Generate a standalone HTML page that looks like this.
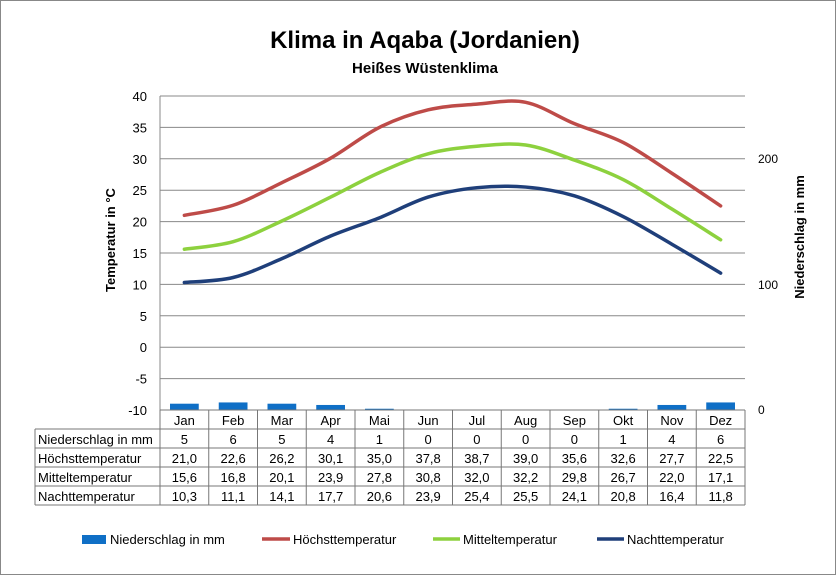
<!DOCTYPE html>
<html><head><meta charset="utf-8"><style>
body{margin:0;background:#fff}
svg{display:block;font-family:"Liberation Sans",Arial,sans-serif}
</style></head><body>
<svg id="s" width="836" height="575" viewBox="0 0 836 575">
<rect x="0.5" y="0.5" width="835" height="574" fill="#fff" stroke="#888"/>
<text x="425" y="48" text-anchor="middle" font-size="24" font-weight="bold">Klima in Aqaba (Jordanien)</text>
<text x="425" y="73" text-anchor="middle" font-size="15" font-weight="bold">Heißes Wüstenklima</text>
<g id="grid" stroke="#888" stroke-width="1"></g>
<g id="ylab" font-size="13" fill="#000" text-anchor="end"></g>
<text x="115" y="240" font-size="13" font-weight="bold" text-anchor="middle" transform="rotate(-90 115 240)">Temperatur in °C</text>
<text x="804" y="237" font-size="13" font-weight="bold" text-anchor="middle" transform="rotate(-90 804 237)">Niederschlag in mm</text>
<text x="758" y="163" font-size="12">200</text>
<text x="758" y="289" font-size="12">100</text>
<text x="758" y="414" font-size="12">0</text>
<g id="bars" fill="#0f6fc6"></g>
<g id="lines" fill="none" stroke-width="3.5" stroke-linecap="round"></g>
<g id="tab" font-size="13" stroke="#777" stroke-width="1"></g>
<g font-size="13">
<rect x="82" y="535" width="24" height="9" fill="#0f6fc6"/>
<text x="110" y="544">Niederschlag in mm</text>
<line x1="262" y1="539" x2="290" y2="539" stroke="#be4b48" stroke-width="3.5"/>
<text x="293" y="544">Höchsttemperatur</text>
<line x1="433" y1="539" x2="460" y2="539" stroke="#8dd13e" stroke-width="3.5"/>
<text x="463" y="544">Mitteltemperatur</text>
<line x1="597" y1="539" x2="624" y2="539" stroke="#1f3f7a" stroke-width="3.5"/>
<text x="627" y="544">Nachttemperatur</text>
</g>
</svg>
<script>
var NS="http://www.w3.org/2000/svg";
function el(p,t,a,txt){var e=document.createElementNS(NS,t);for(var k in a)e.setAttribute(k,a[k]);if(txt!=null)e.textContent=txt;document.getElementById(p).appendChild(e);return e;}
var X0=160,X1=745,W=(X1-X0)/12;
function Y(v){return 410-(v+10)*6.28;}
for(var v=-10;v<=40;v+=5){var y=Y(v);el("grid","line",{x1:X0,x2:X1,y1:y,y2:y});el("ylab","text",{x:147,y:y+5},String(v));}
el("grid","line",{x1:X0,x2:X0,y1:96,y2:410});
var m=["Jan","Feb","Mar","Apr","Mai","Jun","Jul","Aug","Sep","Okt","Nov","Dez"];
var P=[5,6,5,4,1,0,0,0,0,1,4,6];
var H=[21.0,22.6,26.2,30.1,35.0,37.8,38.7,39.0,35.6,32.6,27.7,22.5];
var M=[15.6,16.8,20.1,23.9,27.8,30.8,32.0,32.2,29.8,26.7,22.0,17.1];
var N=[10.3,11.1,14.1,17.7,20.6,23.9,25.4,25.5,24.1,20.8,16.4,11.8];
for(var i=0;i<12;i++){var h=P[i]*1.26;if(h>0)el("bars","rect",{x:X0+W*i+10,y:410-h,width:W-20,height:h});}
function path(d,c){var p=d.map(function(v,i){return[X0+W*(i+.5),Y(v)]});var s="M"+p[0][0]+","+p[0][1];
for(var i=0;i<p.length-1;i++){var a=p[Math.max(i-1,0)],b=p[i],c2=p[i+1],e=p[Math.min(i+2,p.length-1)];
s+=" C"+(b[0]+(c2[0]-a[0])/6)+","+(b[1]+(c2[1]-a[1])/6)+" "+(c2[0]-(e[0]-b[0])/6)+","+(c2[1]-(e[1]-b[1])/6)+" "+c2[0]+","+c2[1];}
el("lines","path",{d:s,stroke:c});}
path(H,"#be4b48");path(M,"#8dd13e");path(N,"#1f3f7a");
var rows=[["Niederschlag in mm",P.map(String)],["Höchsttemperatur",H],["Mitteltemperatur",M],["Nachttemperatur",N]];
var ry=[410,429,448,467,486,505];
el("tab","line",{x1:X0,x2:X1,y1:410,y2:410});
for(var r=1;r<ry.length;r++)el("tab","line",{x1:35,x2:X1,y1:ry[r],y2:ry[r]});
el("tab","line",{x1:35,x2:35,y1:429,y2:505});
for(var i=0;i<=12;i++)el("tab","line",{x1:X0+W*i,x2:X0+W*i,y1:410,y2:505});
for(var i=0;i<12;i++)el("tab","text",{x:X0+W*(i+.5),y:425,"text-anchor":"middle",stroke:"none"},m[i]);
rows.forEach(function(r,j){var y=ry[j+1]+15;el("tab","text",{x:38,y:y,stroke:"none"},r[0]);
for(var i=0;i<12;i++){var v=r[1][i];var t=typeof v=="number"?v.toFixed(1).replace(".",","):v;
el("tab","text",{x:X0+W*(i+.5),y:y,"text-anchor":"middle",stroke:"none"},t);}});
</script>
</body></html>
